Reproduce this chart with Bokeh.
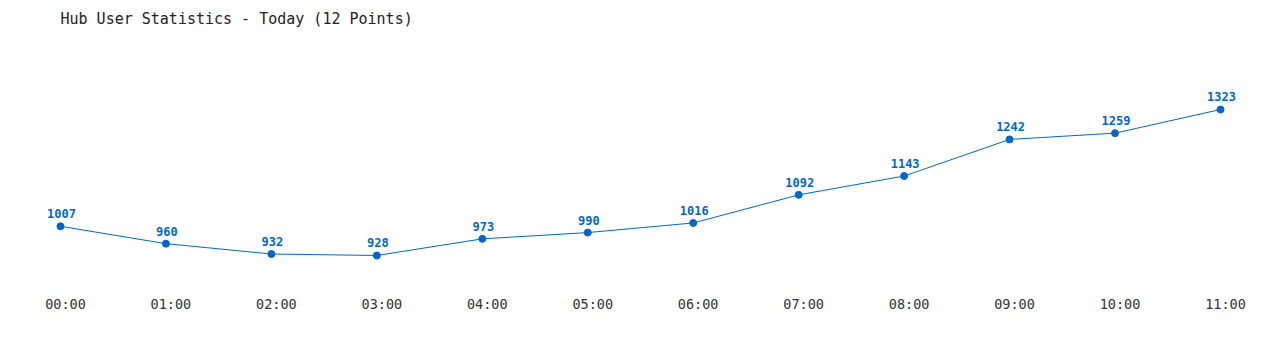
from bokeh.plotting import figure
from bokeh.models import ColumnDataSource, FixedTicker, Range1d, LinearAxis
from bokeh.core.properties import value
from bokeh.embed import file_html
from bokeh.resources import INLINE

hours = ["00:00", "01:00", "02:00", "03:00", "04:00", "05:00",
         "06:00", "07:00", "08:00", "09:00", "10:00", "11:00"]
users = [1007, 960, 932, 928, 973, 990, 1016, 1092, 1143, 1242, 1259, 1323]
title_text = "Hub User Statistics - Today (12 Points)"

idx = list(range(len(hours)))
src = ColumnDataSource(dict(x=idx, y=users, lbl=[str(v) for v in users]))

BLUE = "#0066cc"
MONO = "DejaVu Sans Mono"

X0, X1 = -0.569, 11.569
SHIFT = 0.047  # tick labels sit slightly right of the points
TOP = 34

p = figure(width=1280, height=350, output_backend="svg", toolbar_location=None,
           x_range=Range1d(X0, X1),
           y_range=Range1d(846.8, 1323 + (109 - TOP) / 0.36962),
           x_axis_location=None, y_axis_location=None,
           min_border_left=0, min_border_right=0,
           min_border_top=TOP, min_border_bottom=65)
p.extra_x_ranges = {"lab": Range1d(X0 - SHIFT, X1 - SHIFT)}

p.title.text = title_text
p.title.text_font = MONO
p.title.text_font_size = "15px"
p.title.text_font_style = "normal"
p.title.text_color = "#222222"
p.title.offset = 60
p.title.standoff = 14

p.outline_line_color = None
p.grid.visible = False
p.background_fill_color = "white"
p.border_fill_color = "white"

p.line("x", "y", source=src, line_color=BLUE, line_width=1)
p.scatter("x", "y", source=src, size=7, fill_color=BLUE, line_color=BLUE)
p.text("x", "y", text="lbl", source=src, text_font=value(MONO), text_font_size="12px",
       text_font_style="bold", text_color=BLUE, text_align="center",
       text_baseline="bottom", y_offset=-8, x_offset=1)

ax = LinearAxis(x_range_name="lab")
ax.ticker = FixedTicker(ticks=idx)
ax.major_label_overrides = {i: h for i, h in zip(idx, hours)}
ax.axis_line_color = None
ax.major_tick_line_color = None
ax.minor_tick_line_color = None
ax.major_tick_out = 0
ax.major_tick_in = 0
ax.major_label_standoff = 10
ax.major_label_text_font = MONO
ax.major_label_text_font_size = "13.5px"
ax.major_label_text_color = "#333333"
p.add_layout(ax, "below")

open("out.html", "w").write(file_html(p, INLINE))
